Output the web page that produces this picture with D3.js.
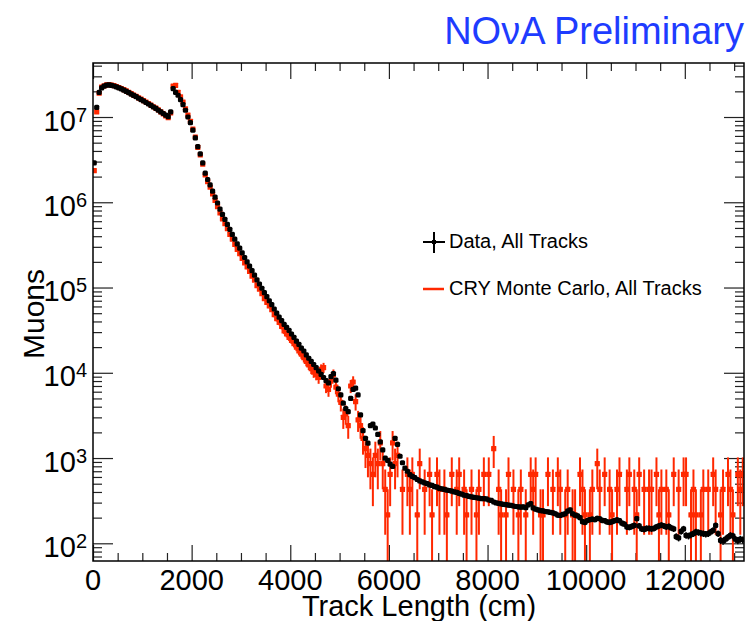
<!DOCTYPE html>
<html>
<head>
    <script src="https://d3js.org/d3.v7.min.js"></script>
    <style>
        body { margin: 0; background: #fff; }
        svg text { font-family: 'Liberation Sans', Arial, sans-serif; }
    </style>
</head>
<body>
<script>
// track length histogram, 50 cm bins from 0 to 13200 cm
const binWidth = 50;
const binCenters = d3.range(25, 13200, binWidth);

// data, all tracks (one line = 500 cm)
const dataCounts = [
    2.9e6, 1.3e7, 1.95e7, 2.2e7, 2.3e7, 2.36e7, 2.38e7, 2.35e7, 2.31e7, 2.26e7,
    2.2e7, 2.14e7, 2.07e7, 2.0e7, 1.93e7, 1.86e7, 1.79e7, 1.73e7, 1.66e7, 1.6e7,
    1.54e7, 1.48e7, 1.42e7, 1.37e7, 1.31e7, 1.26e7, 1.2e7, 1.15e7, 1.1e7, 1.05e7,
    1.01e7, 1.15e7, 2.15e7, 1.95e7, 1.8e7, 1.6e7, 1.4e7, 1.2e7, 1.0e7, 8.6e6,
    7.0e6, 5.7e6, 4.5e6, 3.7e6, 2.9e6, 2.2e6, 1.85e6, 1.6e6, 1.35e6, 1.15e6,
    9.8e5, 8.3e5, 7.2e5, 6.3e5, 5.5e5, 4.8e5, 4.2e5, 3.7e5, 3.25e5, 2.9e5,
    2.55e5, 2.25e5, 2.0e5, 1.78e5, 1.58e5, 1.4e5, 1.23e5, 1.1e5, 9.8e4, 8.7e4,
    7.8e4, 7.0e4, 6.3e4, 5.6e4, 5.0e4, 4.5e4, 4.1e4, 3.7e4, 3.4e4, 3.15e4,
    2.85e4, 2.6e4, 2.35e4, 2.15e4, 1.95e4, 1.8e4, 1.62e4, 1.48e4, 1.36e4, 1.25e4,
    1.15e4, 1.05e4, 9.6e3, 8.8e3, 8.1e3, 7.6e3, 9.0e3, 9.8e3, 8.2e3, 6.5e3,
    5.5e3, 4.4e3, 3.8e3, 3.5e3, 5.0e3, 6.4e3, 6.6e3, 5.5e3, 3.2e3, 2.1e3,
    1.7e3, 1.5e3, 2.4e3, 2.5e3, 2.25e3, 1.9e3, 1.55e3, 1.25e3, 1.0e3, 940,
    850, 800, 1700, 1450, 1050, 880, 760, 700, 640, 610,
    590, 560, 540, 525, 510, 500, 485, 478, 462, 455,
    440, 435, 428, 420, 416, 410, 400, 395, 385, 378,
    368, 362, 355, 350, 346, 342, 338, 335, 335, 332,
    322, 318, 305, 298, 294, 290, 286, 284, 280, 278,
    274, 270, 268, 266, 268, 262, 282, 292, 260, 252,
    246, 242, 240, 236, 234, 230, 228, 222, 214, 212,
    218, 222, 238, 246, 222, 214, 210, 200, 180, 176,
    185, 190, 192, 190, 196, 194, 186, 184, 178, 176,
    180, 184, 188, 184, 172, 168, 156, 154, 158, 162,
    195, 160, 148, 146, 150, 150, 148, 150, 156, 160,
    164, 160, 156, 158, 152, 148, 120, 116, 138, 148,
    124, 122, 126, 130, 136, 134, 132, 130, 128, 130,
    136, 142, 162, 130, 108, 106, 112, 118, 124, 122,
    112, 108, 112, 110
];

// CRY Monte Carlo, all tracks (events of weight mcWeight; one line = 500 cm)
const mcWeight = 215;
const mcCounts = [
    2.35e6, 1.15e7, 1.9e7, 2.25e7, 2.32e7, 2.38e7, 2.4e7, 2.37e7, 2.33e7, 2.28e7,
    2.22e7, 2.16e7, 2.09e7, 2.02e7, 1.95e7, 1.88e7, 1.81e7, 1.75e7, 1.68e7, 1.62e7,
    1.56e7, 1.5e7, 1.44e7, 1.38e7, 1.32e7, 1.27e7, 1.21e7, 1.15e7, 1.09e7, 1.03e7,
    9.8e6, 1.12e7, 2.3e7, 2.35e7, 1.95e7, 1.72e7, 1.5e7, 1.25e7, 1.05e7, 8.9e6,
    7.2e6, 5.8e6, 4.4e6, 3.6e6, 2.8e6, 2.1e6, 1.75e6, 1.5e6, 1.25e6, 1.05e6,
    8.9e5, 7.5e5, 6.4e5, 5.6e5, 4.9e5, 4.2e5, 3.7e5, 3.2e5, 2.8e5, 2.5e5,
    2.2e5, 1.95e5, 1.75e5, 1.55e5, 1.36e5, 1.22e5, 1.05e5, 9.6e4, 8.5e4, 7.4e4,
    6.7e4, 6.1e4, 5.5e4, 4.8e4, 4.3e4, 3.9e4, 3.5e4, 3.1e4, 2.85e4, 2.6e4,
    2.4e4, 2.2e4, 2.0e4, 1.8e4, 1.65e4, 1.5e4, 1.36e4, 1.24e4, 1.12e4, 1.02e4,
    9.6e3, 8.8e3, 1.1e4, 1.15e4, 7.0e3, 6.4e3, 8.0e3, 9.5e3, 6.8e3, 5.6e3,
    4.5e3, 3.0e3, 3.3e3, 2.4e3, 7.0e3, 7.8e3, 4.6e3, 2.8e3, 2.4e3, 1.7e3,
    1290, 1075, 860, 645, 1075, 860, 1505, 860, 430, 215,
    645, 1505, 860, 1075, 0, 430, 0, 645, 430, 645,
    0, 215, 860, 0, 430, 0, 645, 215, 0, 645,
    430, 0, 430, 215, 0, 645, 0, 430, 645, 0,
    430, 215, 0, 430, 0, 215, 430, 0, 645, 0,
    645, 0, 1290, 0, 430, 215, 0, 215, 645, 0,
    430, 0, 215, 430, 0, 215, 0, 645, 430, 645,
    0, 215, 215, 0, 645, 0, 430, 0, 645, 430,
    0, 215, 430, 0, 215, 215, 0, 645, 430, 215,
    0, 215, 430, 0, 860, 430, 0, 645, 0, 430,
    215, 0, 430, 645, 0, 0, 430, 645, 0, 430,
    215, 645, 0, 430, 0, 430, 430, 0, 645, 215,
    430, 0, 430, 215, 0, 645, 0, 430, 0, 645,
    645, 0, 215, 430, 215, 0, 215, 430, 0, 430,
    0, 645, 430, 0, 215, 430, 0, 645, 430, 215,
    0, 645, 430, 645
];

const xMajorTicks = [0, 2000, 4000, 6000, 8000, 10000, 12000];
const yDecades = [1e2, 1e3, 1e4, 1e5, 1e6, 1e7];

const width = 746;
const height = 621;
const margin = { top: 63, right: 2, bottom: 60, left: 93 };

const x = d3.scaleLinear()
    .domain([0, 13200])
    .range([margin.left, width - margin.right]);

const y = d3.scaleLog()
    .domain([62, 4.3e7])
    .range([height - margin.bottom, margin.top]);

let svg = d3.select('body').append('svg')
    .attr('width', width)
    .attr('height', height);

svg.append('defs').append('clipPath')
    .attr('id', 'plot')
    .append('rect')
    .attr('x', margin.left)
    .attr('y', margin.top)
    .attr('width', width - margin.right - margin.left)
    .attr('height', height - margin.bottom - margin.top);

// ticks: minor every 500 cm, major every 2000 cm, log minors 2..9
const xMinor = d3.range(0, 13201, 500).filter(v => v % 2000 != 0);
const yMinor = [];
yDecades.concat([10]).forEach(d => {
    for (let k = 2; k <= 9; k++) {
        const v = d * k;
        if (v > 62 && v < 4.3e7) yMinor.push(v);
    }
});

function tickGroup(axis, transform) {
    const g = svg.append('g')
        .attr('transform', transform)
        .call(axis);
    g.select('.domain').remove();
    g.selectAll('line').attr('stroke', '#222').attr('stroke-width', 1.2);
    return g;
}

const yBot = height - margin.bottom;
const xRight = width - margin.right;

tickGroup(d3.axisBottom(x).tickValues(xMajorTicks).tickSize(-16).tickFormat(''), `translate(0,${yBot})`);
tickGroup(d3.axisBottom(x).tickValues(xMinor).tickSize(-8).tickFormat(''), `translate(0,${yBot})`);
tickGroup(d3.axisTop(x).tickValues(xMajorTicks).tickSize(-16).tickFormat(''), `translate(0,${margin.top})`);
tickGroup(d3.axisTop(x).tickValues(xMinor).tickSize(-8).tickFormat(''), `translate(0,${margin.top})`);
tickGroup(d3.axisLeft(y).tickValues(yDecades).tickSize(-20).tickFormat(''), `translate(${margin.left},0)`);
tickGroup(d3.axisLeft(y).tickValues(yMinor).tickSize(-9).tickFormat(''), `translate(${margin.left},0)`);
tickGroup(d3.axisRight(y).tickValues(yDecades).tickSize(-20).tickFormat(''), `translate(${xRight},0)`);
tickGroup(d3.axisRight(y).tickValues(yMinor).tickSize(-9).tickFormat(''), `translate(${xRight},0)`);

// tick labels
svg.append('g').selectAll('text')
    .data(xMajorTicks)
    .join('text')
    .attr('x', d => x(d))
    .attr('y', yBot + 29)
    .attr('text-anchor', 'middle')
    .attr('font-size', 29)
    .text(d => d);

const yLab = svg.append('g').selectAll('text')
    .data(yDecades)
    .join('text')
    .attr('x', margin.left - 6)
    .attr('y', d => y(d) + 13.5)
    .attr('text-anchor', 'end')
    .attr('font-size', 29);
yLab.append('tspan').text('10');
yLab.append('tspan')
    .attr('font-size', 20)
    .attr('dy', -9)
    .text(d => Math.round(Math.log10(d)));

// axis titles
svg.append('text')
    .attr('x', 419)
    .attr('y', 616)
    .attr('text-anchor', 'middle')
    .attr('font-size', 29)
    .text('Track Length (cm)');

svg.append('text')
    .attr('transform', 'translate(44,314) rotate(-90)')
    .attr('text-anchor', 'middle')
    .attr('font-size', 30)
    .text('Muons');

svg.append('text')
    .attr('x', 744)
    .attr('y', 44)
    .attr('text-anchor', 'end')
    .attr('font-size', 38)
    .attr('fill', '#1e3cff')
    .text('NO\u03BDA Preliminary');

// histograms with error bars
const plot = svg.append('g').attr('clip-path', 'url(#plot)');

function drawHist(values, errFn, color, barWidth, round) {
    const pts = binCenters.map((c, i) => ({ c: c, v: values[i], e: errFn(values[i]) }))
        .filter(d => d.v > 0);
    const g = plot.append('g');
    g.selectAll('line.v')
        .data(pts)
        .join('line')
        .attr('x1', d => x(d.c))
        .attr('x2', d => x(d.c))
        .attr('y1', d => y(d.v + d.e))
        .attr('y2', d => d.v - d.e > 1 ? y(d.v - d.e) : yBot + 5)
        .attr('stroke', color)
        .attr('stroke-width', barWidth);
    g.selectAll('line.h')
        .data(pts)
        .join('line')
        .attr('x1', d => x(d.c - binWidth / 2))
        .attr('x2', d => x(d.c + binWidth / 2))
        .attr('y1', d => y(d.v))
        .attr('y2', d => y(d.v))
        .attr('stroke', color)
        .attr('stroke-width', barWidth);
    g.selectAll('rect')
        .data(pts)
        .join('rect')
        .attr('x', d => x(d.c) - 2.6)
        .attr('y', d => y(d.v) - 2.6)
        .attr('width', 5.2)
        .attr('height', 5.2)
        .attr('rx', round)
        .attr('fill', color);
}

drawHist(mcCounts, v => Math.sqrt(v * mcWeight), '#ff2800', 2, 0.5);
drawHist(dataCounts, v => Math.sqrt(v), '#000', 1.5, 1.5);

// frame
svg.append('rect')
    .attr('x', margin.left)
    .attr('y', margin.top)
    .attr('width', xRight - margin.left)
    .attr('height', yBot - margin.top)
    .attr('fill', 'none')
    .attr('stroke', '#000')
    .attr('stroke-width', 1.5);

// legend
const legend = svg.append('g');
legend.append('line').attr('x1', 423).attr('x2', 445).attr('y1', 242).attr('y2', 242)
    .attr('stroke', '#000').attr('stroke-width', 2);
legend.append('line').attr('x1', 434).attr('x2', 434).attr('y1', 232).attr('y2', 253)
    .attr('stroke', '#000').attr('stroke-width', 2);
legend.append('rect').attr('x', 432).attr('y', 240).attr('width', 4).attr('height', 4).attr('fill', '#000');
legend.append('text').attr('x', 449).attr('y', 248).attr('font-size', 20).text('Data, All Tracks');
legend.append('line').attr('x1', 423).attr('x2', 444).attr('y1', 289).attr('y2', 289)
    .attr('stroke', '#ff2800').attr('stroke-width', 2.5);
legend.append('text').attr('x', 449).attr('y', 295).attr('font-size', 20).text('CRY Monte Carlo, All Tracks');
</script>
</body>
</html>
